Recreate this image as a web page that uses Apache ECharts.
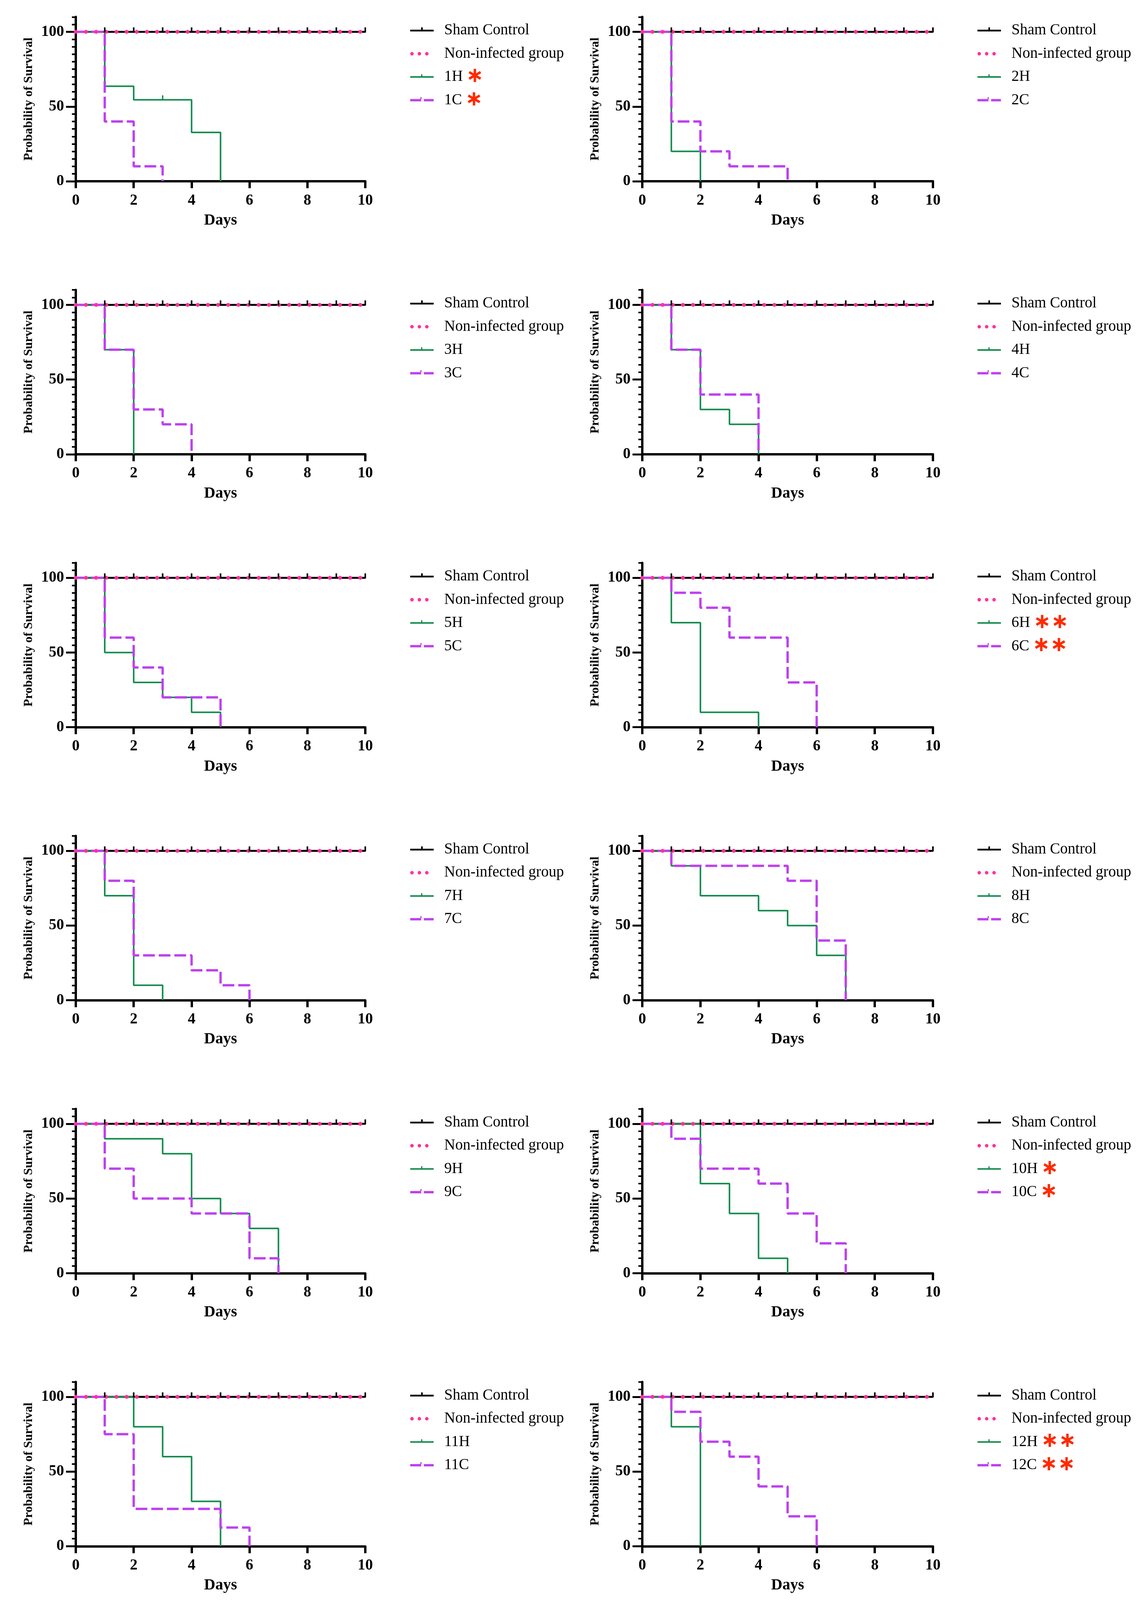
<!DOCTYPE html>
<html><head><meta charset="utf-8">
<script src="https://cdn.jsdelivr.net/npm/echarts@6/dist/echarts.min.js"></script>
<style>html,body{margin:0;padding:0;background:#fff;overflow:hidden}#c{width:2918px}</style>
</head><body><div id="c"></div>
<script>
// ---------------- data ----------------
const panelLabels = ['1','2','3','4','5','6','7','8','9','10','11','12'];
const panelStars  = ['∗','','','','','∗∗','','','','∗','','∗∗'];
const xTickValues = [0,2,4,6,8,10];
const yLabelValues = [0,50,100];

const shamControl = [[0,100],[1,100],[2,100],[3,100],[4,100],[5,100],[6,100],[7,100],[8,100],[9,100],[10,100]];
const shamCensorDays = [1,2,3,4,5,6,7,8,9,10];
const nonInfected = [[0,100],[10,100]];

const hSurvival = [
  [[0,100],[1,63.6],[2,54.5],[3,54.5],[4,32.7],[5,0]],
  [[0,100],[1,20],[2,0]],
  [[0,100],[1,70],[2,0]],
  [[0,100],[1,70],[2,30],[3,20],[4,0]],
  [[0,100],[1,50],[2,30],[3,20],[4,10],[5,0]],
  [[0,100],[1,70],[2,10],[4,0]],
  [[0,100],[1,70],[2,10],[3,0]],
  [[0,100],[1,90],[2,70],[4,60],[5,50],[6,30],[7,0]],
  [[0,100],[1,90],[3,80],[4,50],[5,40],[6,30],[7,0]],
  [[0,100],[2,60],[3,40],[4,10],[5,0]],
  [[0,100],[2,80],[3,60],[4,30],[5,0]],
  [[0,100],[1,80],[2,0]]
];
const hCensorDays = [[3],[],[],[],[],[],[],[],[],[],[],[]];

const cSurvival = [
  [[0,100],[1,40],[2,10],[3,0]],
  [[0,100],[1,40],[2,20],[3,10],[5,0]],
  [[0,100],[1,70],[2,30],[3,20],[4,0]],
  [[0,100],[1,70],[2,40],[4,0]],
  [[0,100],[1,60],[2,40],[3,20],[5,0]],
  [[0,100],[1,90],[2,80],[3,60],[5,30],[6,0]],
  [[0,100],[1,80],[2,30],[4,20],[5,10],[6,0]],
  [[0,100],[1,90],[5,80],[6,40],[7,0]],
  [[0,100],[1,70],[2,50],[4,40],[6,10],[7,0]],
  [[0,100],[1,90],[2,70],[4,60],[5,40],[6,20],[7,0]],
  [[0,100],[1,75],[2,25],[5,12.5],[6,0]],
  [[0,100],[1,90],[2,70],[3,60],[4,40],[5,20],[6,0]]
];

// ---------------- styling / layout ----------------
const FONT = 'Liberation Serif';
const LEGEND_FS = 39;
const BLACK = '#000000', PINK = '#ff3399', GREEN = '#138b4f', PURPLE = '#bf40ef', STAR = '#ff2a00';
const W = 2918;
const H = Math.min(4820, window.innerHeight || 4820);   // the window may be shorter than 4820
const ky = H / 4820;                                      // vertical layout factor
document.getElementById('c').style.height = H + 'px';

const cols = [{left:194, width:741, legend:1045}, {left:1644, width:744, legend:2497}];
const rowY100 = r => (96 + 822.4 * r) * ky;

const iconSham  = 'path://M0,0M60,20M0,8H60V12.5H0ZM28,2H32V8H28Z';
const iconDots  = 'path://M0,0M60,20M0,10a4.5,4.5 0 1,0 9,0a4.5,4.5 0 1,0 -9,0ZM19,10a4.5,4.5 0 1,0 9,0a4.5,4.5 0 1,0 -9,0ZM38,10a4.5,4.5 0 1,0 9,0a4.5,4.5 0 1,0 -9,0Z';
const iconH     = 'path://M0,0M60,20M0,8H60V12H0ZM28,3H31V8H28Z';
const iconC     = 'path://M0,0M60,20M0,7H28V13H0ZM35,7H60V13H35ZM26,2H29V7H26Z';

const mctx = document.createElement('canvas').getContext('2d');
mctx.font = LEGEND_FS + 'px "' + FONT + '"';
const textW = s => mctx.measureText(s).width;

const grid = [], xAxis = [], yAxis = [], series = [], legend = [], graphics = [];

for (let i = 0; i < 12; i++) {
  const r = Math.floor(i / 2), c = i % 2;
  const y100 = rowY100(r);
  const lab = panelLabels[i];
  const star = panelStars[i];
  grid.push({left: cols[c].left, width: cols[c].width, top: y100 - 45 * ky, height: 495 * ky});

  xAxis.push({
    gridIndex: i, type: 'value', min: 0, max: 10, interval: 2,
    axisLine: {show: true, lineStyle: {color: BLACK, width: 6}},
    axisTick: {show: true, length: 21 * ky, lineStyle: {color: BLACK, width: 6}},
    axisLabel: {margin: 53 * ky - 15, fontFamily: FONT, fontWeight: 'bold', fontSize: 39, color: BLACK,
                customValues: xTickValues},
    splitLine: {show: false},
    name: 'Days', nameLocation: 'middle', nameGap: 110 * ky - 13,
    nameTextStyle: {fontFamily: FONT, fontWeight: 'bold', fontSize: 40, color: BLACK}
  });
  yAxis.push({
    gridIndex: i, type: 'value', min: 0, max: 110, interval: 5, position: 'left',
    axisLine: {show: true, lineStyle: {color: BLACK, width: 6}},
    axisTick: {show: true, length: 10, lineStyle: {color: BLACK, width: 4}},
    axisLabel: {margin: 30, fontFamily: FONT, fontWeight: 'bold', fontSize: 39, color: BLACK,
                customValues: yLabelValues},
    splitLine: {show: false},
    name: 'Probability of Survival', nameLocation: 'middle', nameGap: 104, nameRotate: 90,
    nameTextStyle: {fontFamily: FONT, fontWeight: 'bold', fontSize: 38 * ky, color: BLACK}
  });
  yAxis.push({
    gridIndex: i, type: 'value', min: 0, max: 110, interval: 50, position: 'left',
    axisLine: {show: false},
    axisTick: {show: true, length: 25, customValues: yLabelValues, lineStyle: {color: BLACK, width: 5}},
    axisLabel: {show: false}, splitLine: {show: false}
  });

  const yi = 2 * i;
  series.push({
    type: 'line', name: 'Sham Control', xAxisIndex: i, yAxisIndex: yi,
    data: shamControl.map(p => ({value: p, symbol: shamCensorDays.includes(p[0]) ? 'rect' : 'none'})),
    symbol: 'rect', symbolSize: [4, 13], symbolOffset: [0, -5], showSymbol: true,
    color: BLACK, itemStyle: {color: BLACK}, lineStyle: {color: BLACK, width: 5},
    silent: true, animation: false
  });
  series.push({
    type: 'line', name: lab + 'H', xAxisIndex: i, yAxisIndex: yi, step: 'end',
    data: hSurvival[i].map(p => ({value: p, symbol: hCensorDays[i].includes(p[0]) ? 'rect' : 'none'})),
    symbol: 'rect', symbolSize: [3.5, 13], symbolOffset: [0, -5], showSymbol: true,
    color: GREEN, itemStyle: {color: GREEN}, lineStyle: {color: GREEN, width: 4},
    silent: true, animation: false
  });
  series.push({
    type: 'line', name: lab + 'C', xAxisIndex: i, yAxisIndex: yi, step: 'end',
    data: cSurvival[i], symbol: 'none', showSymbol: false,
    color: PURPLE, itemStyle: {color: PURPLE}, lineStyle: {color: PURPLE, width: 6, type: [30, 10]},
    silent: true, animation: false
  });
  series.push({
    type: 'line', name: 'Non-infected group', xAxisIndex: i, yAxisIndex: yi,
    data: nonInfected, symbol: 'none', showSymbol: false,
    color: PINK, itemStyle: {color: PINK}, lineStyle: {color: PINK, width: 10, type: [0.01, 26], cap: 'round'},
    silent: true, animation: false
  });

  const rowStep = 70 * ky;
  const legTop = y100 - 10 * ky - 20;
  legend.push({
    orient: 'vertical', left: cols[c].legend, top: legTop,
    itemWidth: 60, itemHeight: 20, itemGap: rowStep - 40, selectedMode: false,
    data: [
      {name: 'Sham Control', icon: iconSham},
      {name: 'Non-infected group', icon: iconDots},
      {name: lab + 'H', icon: iconH},
      {name: lab + 'C', icon: iconC}
    ],
    textStyle: {fontFamily: FONT, fontSize: LEGEND_FS, color: BLACK, lineHeight: 40, padding: [0, 0, 0, 22]}
  });

  // significance stars after the H / C legend entries
  if (star) {
    const textStart = cols[c].legend + 60 + 5 + 22;
    [[lab + 'H', 2], [lab + 'C', 3]].forEach(([nm, k]) => {
      graphics.push({
        type: 'text', silent: true, z: 10,
        x: textStart + textW(nm) + 13,
        y: legTop + 24 + k * rowStep,
        style: {text: star, fill: STAR, fontFamily: 'DejaVu Sans', fontWeight: 'bold', fontSize: 54,
                align: 'left', verticalAlign: 'middle'}
      });
    });
  }
}

const chart = echarts.init(document.getElementById('c'), null, {renderer: 'canvas', width: W, height: H});
chart.setOption({
  backgroundColor: '#ffffff',
  animation: false,
  grid, xAxis, yAxis, series, legend,
  graphic: {elements: graphics}
});
</script>
</body></html>
